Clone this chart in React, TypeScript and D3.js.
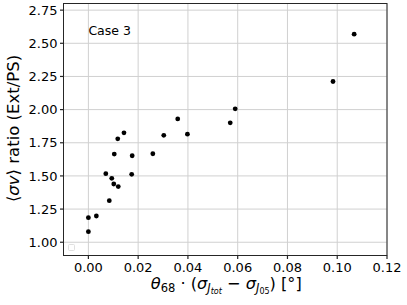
import React from 'react';
import * as d3 from 'd3';

// widths of the Jtot - J05 spread, scaled by theta68 (deg)
const xValues: number[] = [
  0.0, 0.0, 0.0032, 0.0084, 0.007, 0.0094, 0.0102, 0.012, 0.0104, 0.0118, 0.0143,
  0.0176, 0.0174, 0.0259, 0.0303, 0.0398, 0.0359, 0.059, 0.057, 0.0983, 0.1068,
];
// <sigma v> ratio Ext/PS
const yValues: number[] = [
  1.185, 1.08, 1.198, 1.313, 1.517, 1.482, 1.439, 1.42, 1.665, 1.78, 1.825,
  1.652, 1.512, 1.667, 1.806, 1.815, 1.93, 2.006, 1.9, 2.212, 2.569,
];
const xTicks: number[] = [0.0, 0.02, 0.04, 0.06, 0.08, 0.1, 0.12];
const yTicks: number[] = [1.0, 1.25, 1.5, 1.75, 2.0, 2.25, 2.5, 2.75];

const W = 407;
const H = 305;
const margin = { left: 63.5, right: 20, top: 3.5, bottom: 49.5 };
const font = 'DejaVu Sans, sans-serif';

const App: React.FC = () => {
  const x = d3.scaleLinear().domain([-0.01, 0.12]).range([margin.left, W - margin.right]);
  const y = d3.scaleLinear().domain([0.9, 2.8]).range([H - margin.bottom, margin.top]);
  const [x0, x1] = x.range();
  const [y0, y1] = y.range();
  const grid = '#d0d0d0';
  const ink = '#262626';

  return (
    <svg width={W} height={H} style={{ position: 'absolute', left: 0, top: 0 }} fontFamily={font}>
      <rect width={W} height={H} fill="#fff" />
      {xTicks.map((t) => (
        <line key={'gx' + t} x1={x(t)} x2={x(t)} y1={y1} y2={y0} stroke={grid} strokeWidth={1} />
      ))}
      {yTicks.map((t) => (
        <line key={'gy' + t} x1={x0} x2={x1} y1={y(t)} y2={y(t)} stroke={grid} strokeWidth={1} />
      ))}
      {xValues.map((v, i) => (
        <circle key={i} cx={x(v)} cy={y(yValues[i])} r={2.4} fill="#000" />
      ))}
      <rect x={x0} y={y1} width={x1 - x0} height={y0 - y1} fill="none" stroke={ink} strokeWidth={1} />
      {/* empty legend box */}
      <rect x={x0 + 5} y={y0 - 11} width={6} height={6} rx={1} fill="none" stroke="#d8d8d8" strokeWidth={0.8} />
      {xTicks.map((t) => (
        <g key={'tx' + t}>
          <line x1={x(t)} x2={x(t)} y1={y0} y2={y0 + 3.5} stroke={ink} strokeWidth={1.2} />
          <text x={x(t)} y={y0 + 16.5} textAnchor="middle" fontSize={13} fill="#000">
            {d3.format('.2f')(t)}
          </text>
        </g>
      ))}
      {yTicks.map((t) => (
        <g key={'ty' + t}>
          <line x1={x0 - 3.5} x2={x0} y1={y(t)} y2={y(t)} stroke={ink} strokeWidth={1.2} />
          <text x={x0 - 6} y={y(t) + 4.7} textAnchor="end" fontSize={13} fill="#000">
            {d3.format('.2f')(t)}
          </text>
        </g>
      ))}
      <text x={x(0)} y={y(2.6) + 4.5} fontSize={12.5} fill="#000">Case 3</text>
      <text x={(x0 + x1) / 2 + 1} y={289} textAnchor="middle" fontSize={16.2} fill="#000">
        <tspan fontStyle="italic">θ</tspan>
        <tspan fontSize={11.5} dy={3}>68</tspan>
        <tspan dy={-3}> · (</tspan>
        <tspan fontStyle="italic">σ</tspan>
        <tspan fontStyle="italic" fontSize={11.5} dy={3}>J</tspan>
        <tspan fontStyle="italic" fontSize={8} dy={2}>tot</tspan>
        <tspan dy={-5}> − </tspan>
        <tspan fontStyle="italic">σ</tspan>
        <tspan fontStyle="italic" fontSize={11.5} dy={3}>J</tspan>
        <tspan fontSize={8} dy={2}>05</tspan>
        <tspan dy={-5}>) [°]</tspan>
      </text>
      <text
        transform={`translate(18.5, ${(y0 + y1) / 2 - 1}) rotate(-90)`}
        textAnchor="middle"
        fontSize={16.5}
        fill="#000"
      >
        <tspan>⟨</tspan>
        <tspan fontStyle="italic">σv</tspan>
        <tspan>⟩ ratio (Ext/PS)</tspan>
      </text>
    </svg>
  );
};

export default App;
